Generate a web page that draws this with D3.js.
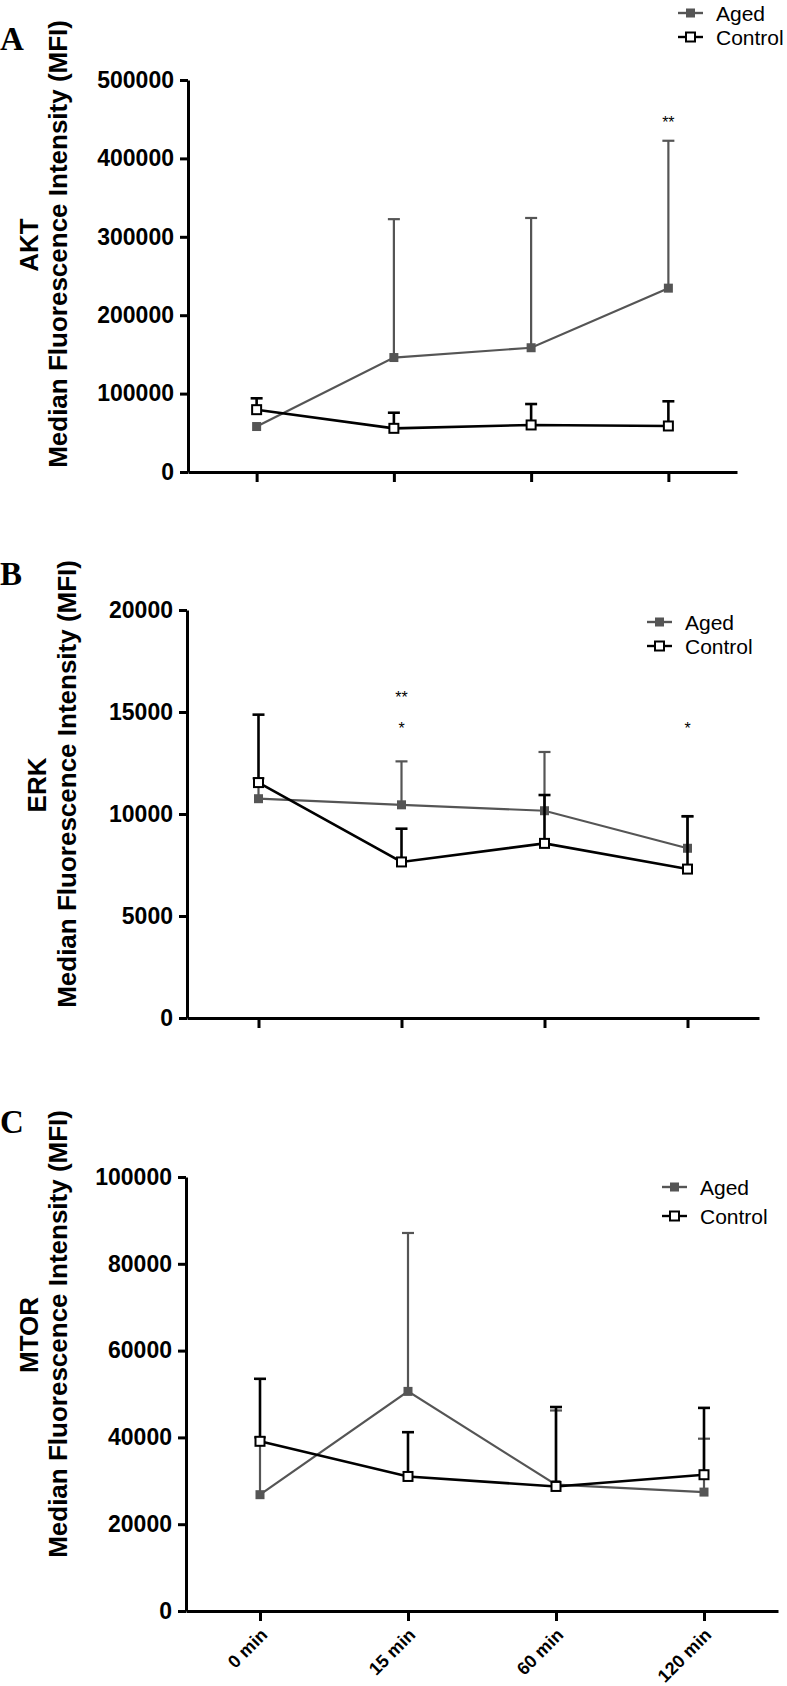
<!DOCTYPE html>
<html>
<head>
<meta charset="utf-8">
<script src="https://cdn.jsdelivr.net/npm/d3@7"></script>
<style>
  body { margin: 0; background: #fff; }
  svg { display: block; }
</style>
</head>
<body>
<script>
const times = ["0 min", "15 min", "60 min", "120 min"]
const seriesNames = ["Aged", "Control"]

// means and top of the error bars
const aktAged = [58000, 146000, 158500, 234500]
const aktAgedTop = [null, 322500, 324000, 422500]
const aktControl = [79500, 55700, 60000, 58700]
const aktControlTop = [94000, 75600, 86700, 90200]

const erkAged = [10750, 10450, 10160, 8320]
const erkAgedTop = [11750, 12580, 13040, 9880]
const erkControl = [11540, 7650, 8560, 7300]
const erkControlTop = [14870, 9280, 10930, 9890]

const mtorAged = [26800, 50600, 29100, 27400]
const mtorAgedTop = [40000, 87100, 46200, 39700]
const mtorControl = [39100, 31000, 28700, 31400]
const mtorControlTop = [53500, 41200, 47000, 46800]

const aktTicks = [0, 100000, 200000, 300000, 400000, 500000]
const erkTicks = [0, 5000, 10000, 15000, 20000]
const mtorTicks = [0, 20000, 40000, 60000, 80000, 100000]

const aktStars = [{t: "120 min", v: 450000, s: "**"}]
const erkStars = [{t: "15 min", v: 15880, s: "**"}, {t: "15 min", v: 14360, s: "*"}, {t: "120 min", v: 14360, s: "*"}]
const mtorStars = []

const width = 787
const height = 1686
const sans = "'Liberation Sans', Arial, Helvetica, sans-serif"
const grey = "#555555"

const panels = [
  {letter: "A", letterY: 50, name: "AKT", aged: aktAged, agedTop: aktAgedTop, control: aktControl, controlTop: aktControlTop,
   ticks: aktTicks, stars: aktStars, top: 80, bottom: 472, left: 188, right: 737,
   titleTop: 20, titleX: 67, nameX: 38, legX: 678, legY: 13, legGap: 24, xLabels: false},
  {letter: "B", letterY: 585, name: "ERK", aged: erkAged, agedTop: erkAgedTop, control: erkControl, controlTop: erkControlTop,
   ticks: erkTicks, stars: erkStars, top: 610, bottom: 1018, left: 187, right: 759,
   titleTop: 560, titleX: 76, nameX: 46, legX: 647, legY: 622, legGap: 24, xLabels: false},
  {letter: "C", letterY: 1133, name: "MTOR", aged: mtorAged, agedTop: mtorAgedTop, control: mtorControl, controlTop: mtorControlTop,
   ticks: mtorTicks, stars: mtorStars, top: 1177, bottom: 1611, left: 186, right: 778,
   titleTop: 1110, titleX: 67, nameX: 38, legX: 662, legY: 1187, legGap: 29, xLabels: true}
]

const svg = d3.select("body").append("svg")
  .attr("width", width)
  .attr("height", height)

panels.forEach(p => {
  const g = svg.append("g")

  const x = d3.scalePoint()
    .domain(times)
    .range([p.left, p.right])
    .padding(0.5)

  const y = d3.scaleLinear()
    .domain([0, d3.max(p.ticks)])
    .range([p.bottom, p.top])

  // panel letter
  g.append("text")
    .attr("x", 0)
    .attr("y", p.letterY)
    .attr("font-family", "'Liberation Serif', 'Times New Roman', serif")
    .attr("font-weight", "bold")
    .attr("font-size", 33)
    .text(p.letter)

  // y title, two lines
  const titleLen = 450
  const mid = p.titleTop + titleLen / 2
  g.append("text")
    .attr("transform", `translate(${p.titleX},${p.titleTop}) rotate(-90)`)
    .attr("text-anchor", "end")
    .attr("font-family", sans)
    .attr("font-weight", "bold")
    .attr("font-size", 26)
    .text("Median Fluorescence Intensity (MFI)")
  g.append("text")
    .attr("transform", `translate(${p.nameX},${mid}) rotate(-90)`)
    .attr("text-anchor", "middle")
    .attr("font-family", sans)
    .attr("font-weight", "bold")
    .attr("font-size", 26)
    .text(p.name)

  // axes
  const yAxis = g.append("g")
    .attr("transform", `translate(${p.left},0)`)
    .call(d3.axisLeft(y).tickValues(p.ticks).tickFormat(d3.format("d")).tickSize(8).tickSizeOuter(0).tickPadding(6))
  yAxis.select(".domain").attr("stroke-width", 3)
  yAxis.selectAll(".tick line").attr("stroke-width", 3)
  yAxis.selectAll(".tick text")
    .attr("font-family", sans)
    .attr("font-weight", "bold")
    .attr("font-size", 23)
    .attr("fill", "#000")

  const xAxis = g.append("g")
    .attr("transform", `translate(0,${p.bottom})`)
    .call(d3.axisBottom(x).tickSize(10).tickSizeOuter(0))
  xAxis.select(".domain").attr("stroke-width", 3)
  xAxis.selectAll(".tick line").attr("stroke-width", 3)
  if (p.xLabels) {
    xAxis.selectAll(".tick text")
      .attr("x", 0).attr("y", 0).attr("dy", 0)
      .attr("transform", "translate(8,25) rotate(-45)")
      .attr("text-anchor", "end")
      .attr("font-family", sans)
      .attr("font-weight", "bold")
      .attr("font-size", 18)
      .attr("fill", "#000")
  } else {
    xAxis.selectAll(".tick text").remove()
  }

  // series
  const series = [
    {name: "Aged", mean: p.aged, upper: p.agedTop, color: grey, width: 2.2, fill: grey},
    {name: "Control", mean: p.control, upper: p.controlTop, color: "#000", width: 2.6, fill: "#fff"}
  ]

  series.forEach(s => {
    const rows = times.map((t, i) => ({t: t, m: s.mean[i], u: s.upper[i]}))
    const err = g.append("g")
      .attr("stroke", s.color)
      .attr("stroke-width", s.width)
    rows.filter(d => d.u != null).forEach(d => {
      err.append("line")
        .attr("x1", x(d.t)).attr("x2", x(d.t))
        .attr("y1", y(d.m)).attr("y2", y(d.u))
      err.append("line")
        .attr("x1", x(d.t) - 6).attr("x2", x(d.t) + 6)
        .attr("y1", y(d.u)).attr("y2", y(d.u))
    })

    g.append("path")
      .datum(rows)
      .attr("fill", "none")
      .attr("stroke", s.color)
      .attr("stroke-width", s.width)
      .attr("d", d3.line().x(d => x(d.t)).y(d => y(d.m)))

    g.append("g")
      .selectAll("rect")
      .data(rows)
      .join("rect")
      .attr("x", d => x(d.t) - 4.5)
      .attr("y", d => y(d.m) - 4.5)
      .attr("width", 9)
      .attr("height", 9)
      .attr("fill", s.fill)
      .attr("stroke", s.color)
      .attr("stroke-width", s.name == "Control" ? 2 : 0)
  })

  // significance marks
  g.append("g")
    .selectAll("text")
    .data(p.stars)
    .join("text")
    .attr("x", d => x(d.t))
    .attr("y", d => y(d.v) + 9)
    .attr("text-anchor", "middle")
    .attr("font-family", sans)
    .attr("font-size", 16)
    .text(d => d.s)

  // legend
  const leg = g.append("g")
  seriesNames.forEach((n, i) => {
    const ly = p.legY + i * p.legGap
    const c = i == 0 ? grey : "#000"
    leg.append("line")
      .attr("x1", p.legX).attr("x2", p.legX + 25)
      .attr("y1", ly).attr("y2", ly)
      .attr("stroke", c)
      .attr("stroke-width", 2.4)
    leg.append("rect")
      .attr("x", p.legX + 12.5 - 4.5).attr("y", ly - 4.5)
      .attr("width", 9).attr("height", 9)
      .attr("fill", i == 0 ? grey : "#fff")
      .attr("stroke", c)
      .attr("stroke-width", i == 0 ? 0 : 2)
    leg.append("text")
      .attr("x", p.legX + 38)
      .attr("y", ly)
      .attr("dy", "0.36em")
      .attr("font-family", sans)
      .attr("font-size", 21)
      .text(n)
  })
})
</script>
</body>
</html>
